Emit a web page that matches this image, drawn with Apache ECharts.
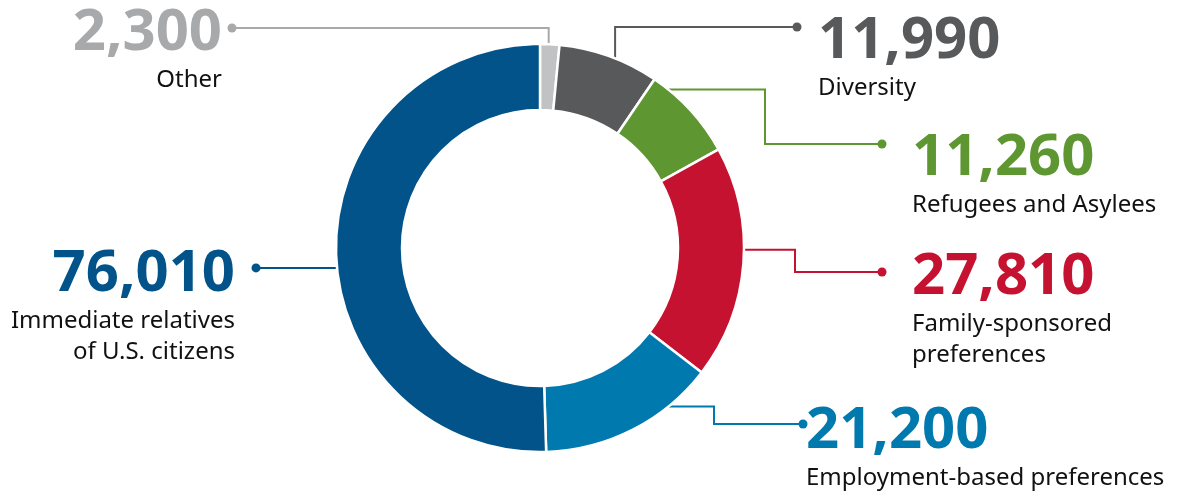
<!DOCTYPE html>
<html><head><meta charset="utf-8">
<script src="https://cdn.jsdelivr.net/npm/echarts@6/dist/echarts.min.js"></script>
<style>html,body{margin:0;padding:0;background:#fff}#c{width:1183px;height:493px}</style>
</head><body><div id="c"></div>
<script>
// ---- data ----
const categories = ['Other', 'Diversity', 'Refugees and Asylees', 'Family-sponsored\npreferences', 'Employment-based preferences', 'Immediate relatives\nof U.S. citizens'];
const values = [2300, 11990, 11260, 27810, 21200, 76010];

// ---- styles ----
const sliceColors = ['#c1c2c4', '#58595b', '#5e9732', '#c41230', '#0079ae', '#01538a'];
const valueColors = ['#a8a9ab', '#58595b', '#5e9732', '#c41230', '#0079ae', '#01538a'];
const lineColors  = ['#a8a9ab', '#58595b', '#5e9732', '#c41230', '#0079ae', '#01538a'];

// ---- layout ----
const CX = 540, CY = 248, R0 = 138, R1 = 204;
// anchor: angle (deg clockwise from 12 o'clock) and radius; path: following points (null = keep previous coord)
const leaders = [
  { ang: 2.75,  r: 181, path: [[null, 28], [232, 28]],                lx: 222, ly: 30,  align: 'right' },
  { ang: 21.6,  r: 204, path: [[null, 27], [797, 27]],                lx: 818, ly: 38,  align: 'left' },
  { ang: 39,    r: 204, path: [[765, null], [null, 144], [882, 144]], lx: 912, ly: 155, align: 'left' },
  { ang: 90.5,  r: 204, path: [[795, null], [null, 272], [882, 272]], lx: 912, ly: 274, align: 'left' },
  { ang: 141,   r: 204, path: [[714, null], [null, 424], [803, 424]], lx: 806, ly: 428, align: 'left' },
  { ang: 264.4, r: 204, path: [[256, null]],                          lx: 235, ly: 271, align: 'right' }
];
const V_LH = 63, N_LH = 31, V_SHIFT = 3;

function leaderPoints(i) {
  const L = leaders[i];
  const a = L.ang * Math.PI / 180;
  const pts = [[CX + L.r * Math.sin(a), CY - L.r * Math.cos(a)]];
  L.path.forEach(p => {
    const prev = pts[pts.length - 1];
    pts.push([p[0] == null ? prev[0] : p[0], p[1] == null ? prev[1] : p[1]]);
  });
  return pts;
}

const rich = { n: { fontFamily: 'Noto Sans', fontSize: 24, lineHeight: N_LH, color: '#111111' } };
valueColors.forEach((c, i) => {
  rich['v' + i] = { fontFamily: 'Noto Sans', fontWeight: 'bold', fontSize: 58, lineHeight: V_LH, color: c };
});

const data = values.map((v, i) => ({
  value: v,
  name: categories[i],
  itemStyle: { color: sliceColors[i] },
  labelLine: { lineStyle: { color: lineColors[i], width: 2 } }
}));

const dots = leaders.map((L, i) => {
  const pts = leaderPoints(i);
  const end = pts[pts.length - 1];
  return { type: 'circle', shape: { cx: end[0], cy: end[1], r: 4.5 }, style: { fill: lineColors[i] }, z: 10 };
});

const chart = echarts.init(document.getElementById('c'));
chart.setOption({
  animation: false,
  graphic: dots,
  series: [{
    type: 'pie',
    center: [CX, CY],
    radius: [R0, R1],
    startAngle: 90,
    clockwise: true,
    avoidLabelOverlap: false,
    silent: true,
    itemStyle: { borderColor: '#ffffff', borderWidth: 2.5 },
    label: {
      show: true,
      position: 'outside',
      formatter: p => '{v' + p.dataIndex + '|' + p.value.toLocaleString('en-US') + '}\n' +
        p.name.split('\n').map(s => '{n|' + s + '}').join('\n'),
      rich: rich
    },
    labelLine: { show: true, length: 10, length2: 10, smooth: false },
    labelLayout: function (params) {
      const i = params.dataIndex;
      const L = leaders[i];
      return {
        x: L.lx,
        y: L.ly + V_SHIFT - V_LH / 2,
        align: L.align,
        verticalAlign: 'top',
        labelLinePoints: leaderPoints(i)
      };
    },
    data: data
  }]
});
</script></body></html>
